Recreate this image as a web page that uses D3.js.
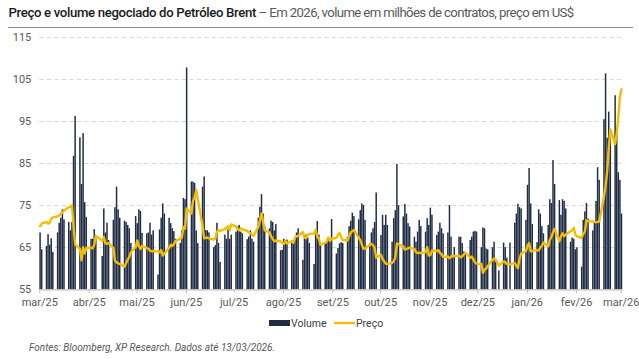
<!DOCTYPE html>
<html><head><meta charset="utf-8">
<script src="https://cdn.jsdelivr.net/npm/d3@7"></script>
<style>body{margin:0;background:#fff}svg{display:block}</style>
</head><body>
<svg id="c" width="639" height="359"></svg>
<script>
// ---- data ----
const firstDay = "2025-03-13";
const lastDay = "2026-03-13";
const holidays = ["2025-04-18", "2025-12-25", "2026-01-01"];
// volume, one value per trading day (week by week)
const volume = [
 68.5, 64.5,
 65.3, 68.1, 65.6, 67.1, 63.9,
 68.5, 70.8, 72.0, 74.0, 71.6,
 71.0, 69.0, 71.0, 86.7, 96.2,
 91.1, 80.0, 92.1, 75.7, 72.2,
 67.0, 67.0, 69.3, 67.0,
 62.9, 74.2, 68.5, 70.8, 66.7,
 71.5, 74.5, 79.4, 74.0, 72.0,
 71.3, 71.0, 70.3, 69.5, 66.0,
 72.4, 70.7, 74.0, 73.6, 68.4,
 68.3, 68.5, 70.8, 68.0, 69.0,
 58.5, 69.2, 72.0, 75.4, 73.0,
 72.0, 70.7, 69.5, 68.8, 67.0,
 66.0, 69.0, 76.7, 76.4, 107.7,
 80.6, 80.6, 80.3, 69.0, 66.0,
 79.4, 81.8, 69.1, 69.0, 68.5,
 65.0, 65.5, 70.8, 66.0, 61.5,
 68.0, 67.0, 69.3, 67.0, 68.0,
 68.7, 69.9, 70.3, 68.7, 68.3,
 66.9, 67.5, 69.0, 67.0, 66.3,
 72.0, 74.6, 77.6, 73.0, 70.0,
 69.5, 71.3, 71.0, 69.0, 70.5,
 64.3, 64.4, 67.0, 66.5, 66.8,
 66.6, 66.4, 67.0, 68.5, 69.5,
 62.0, 67.5, 68.0, 67.3, 66.0,
 61.0, 69.0, 71.2, 68.0, 66.0,
 65.9, 66.8, 67.4, 66.5, 71.7,
 63.5, 64.8, 65.9, 66.2, 66.0,
 67.5, 70.0, 71.3, 73.2, 72.4,
 71.6, 73.8, 75.4, 75.0, 71.5,
 65.9, 68.5, 69.5, 71.0, 78.0,
 67.9, 72.7, 70.3, 72.7, 70.3,
 66.3, 71.9, 73.8, 84.8, 75.0,
 72.3, 75.3, 73.0, 70.7, 69.9,
 67.5, 66.3, 68.7, 71.5, 70.0,
 68.7, 71.9, 70.3, 74.4, 72.7,
 67.9, 68.7, 70.8, 69.5, 68.3,
 68.5, 75.0, 67.5, 62.5, 65.0,
 67.5, 67.5, 66.0, 64.0, 63.5,
 66.7, 67.5, 68.7, 68.9, 68.7,
 65.0, 69.7, 69.5, 64.7, 64.5,
 65.0, 66.3, 61.5, 59.5,
 66.1, 65.0, 62.5, 66.1,
 70.8, 73.0, 75.3, 74.5, 74.2,
 71.5, 79.8, 83.8, 75.4, 70.5,
 66.2, 74.0, 73.0, 70.0, 68.3,
 70.3, 76.4, 75.5, 85.7, 80.0,
 76.2, 72.7, 76.4, 76.0, 74.2,
 66.3, 67.3, 67.0, 64.5, 65.0,
 60.4, 71.5, 73.5, 75.5, 71.8,
 69.0, 71.0, 76.0, 84.0, 81.0,
 95.4, 106.3, 91.0, 97.2, 93.0,
 101.1, 93.0, 82.8, 81.0, 73.0
];
// Brent price (US$), same trading days
const price = [
 70.0, 70.6,
 71.0, 70.6, 70.8, 71.8, 72.1,
 72.3, 72.5, 72.9, 73.2, 73.7,
 74.5, 74.6, 74.9, 70.1, 65.6,
 64.6, 61.9, 65.0, 63.5, 64.8,
 64.9, 64.7, 65.6, 67.7,
 66.5, 67.4, 65.9, 65.8, 66.0,
 64.8, 61.8, 61.4, 61.2, 61.0,
 60.4, 61.2, 62.0, 62.7, 63.8,
 65.0, 66.6, 65.2, 64.6, 65.3,
 64.8, 64.6, 64.2, 64.0, 64.1,
 64.0, 63.8, 64.3, 63.0, 63.5,
 64.8, 65.6, 65.3, 65.7, 66.5,
 67.0, 67.3, 69.8, 69.4, 74.2,
 73.0, 76.0, 76.8, 78.6, 76.5,
 70.0, 67.1, 67.2, 67.3, 67.1,
 66.8, 67.0, 68.7, 69.0, 68.9,
 69.3, 69.7, 70.0, 69.0, 70.4,
 69.9, 69.3, 69.0, 69.5, 69.2,
 68.9, 68.5, 68.3, 68.0, 67.7,
 69.8, 71.5, 73.0, 71.0, 69.0,
 68.5, 67.6, 67.0, 66.4, 66.6,
 66.4, 66.0, 65.8, 66.5, 65.9,
 66.4, 66.0, 67.2, 67.6, 67.7,
 68.6, 67.3, 67.1, 68.0, 68.1,
 68.3, 69.1, 67.6, 67.0, 65.6,
 66.0, 66.4, 67.3, 66.5, 67.0,
 67.2, 67.9, 68.4, 67.5, 66.7,
 66.6, 67.6, 68.5, 68.8, 69.1,
 67.3, 66.7, 65.6, 64.6, 64.7,
 65.5, 65.8, 65.5, 64.8, 62.5,
 63.2, 62.2, 61.6, 61.1, 61.0,
 61.3, 61.6, 62.6, 65.9, 65.7,
 65.2, 64.4, 64.6, 64.7, 64.9,
 64.6, 63.8, 63.6, 63.7, 63.6,
 63.8, 65.0, 63.0, 63.1, 64.2,
 64.1, 64.3, 63.6, 63.4, 62.7,
 62.8, 62.4, 62.8, 63.0, 62.9,
 63.0, 62.6, 62.8, 63.3, 63.7,
 62.5, 62.8, 62.1, 61.4, 61.1,
 61.0, 58.9, 59.7, 59.9, 60.5,
 62.0, 62.3, 62.1, 60.6,
 61.6, 61.5, 61.0, 60.9,
 61.2, 60.6, 60.0, 62.3, 63.5,
 64.0, 65.3, 66.0, 64.0, 64.1,
 64.3, 64.2, 64.9, 65.3, 66.1,
 65.2, 66.7, 67.5, 68.5, 69.4,
 66.4, 67.6, 68.3, 67.6, 68.0,
 68.8, 69.0, 69.6, 68.0, 67.6,
 67.2, 68.2, 68.7, 71.4, 71.2,
 71.1, 71.0, 70.9, 71.0, 71.1,
 77.0, 79.5, 83.0, 88.5, 93.0,
 89.5, 92.0, 96.0, 100.8, 102.5
];
const xTickLabels = ["mar/25","abr/25","mai/25","jun/25","jul/25","ago/25","set/25","out/25","nov/25","dez/25","jan/26","fev/26","mar/26"];
const yTicks = [55, 65, 75, 85, 95, 105, 115];
const seriesNames = ["Volume", "Preço"];
const titleBold = "Preço e volume negociado do Petróleo Brent";
const titleRest = " – Em 2026, volume em milhões de contratos, preço em US$";
const source = "Fontes: Bloomberg, XP Research. Dados até 13/03/2026.";

// ---- build trading-day calendar ----
const parse = d3.utcParse("%Y-%m-%d");
const fmt = d3.utcFormat("%Y-%m-%d");
const hol = new Set(holidays);
const days = d3.utcDays(parse(firstDay), d3.utcDay.offset(parse(lastDay), 1))
  .filter(d => d.getUTCDay() !== 0 && d.getUTCDay() !== 6 && !hol.has(fmt(d)));
const data = days.map((d, i) => ({date: d, vol: volume[i], price: price[i]}));

// ---- layout ----
const svg = d3.select("#c");
const mLeft = 39.3, mRight = 622.3, mTop = 36.7, mBottom = 289.3;
const FONT = "Roboto, 'Noto Sans', sans-serif";
const x = d3.scaleUtc()
  .domain([parse(firstDay), d3.utcDay.offset(parse(lastDay), 1)])
  .range([mLeft, mRight]);
const slot = x(d3.utcDay.offset(parse(firstDay), 1)) - x(parse(firstDay));
const y = d3.scaleLinear().domain([55, 115]).range([mBottom, mTop]);

// title
const t = svg.append("text").attr("x", 8.5).attr("y", 16.5)
  .attr("font-family", FONT).attr("font-size", 13.2);
t.append("tspan").text(titleBold).attr("font-weight", 500).attr("fill", "#1a1a1a")
  .attr("letter-spacing", -0.35);
t.append("tspan").text(titleRest).attr("fill", "#595959").attr("letter-spacing", -0.62);
svg.append("line").attr("x1", 8).attr("x2", 633).attr("y1", 27.5).attr("y2", 27.5)
  .attr("stroke", "#8c8c8c").attr("stroke-width", 1.2);

// grid
svg.append("g").selectAll("line").data(yTicks.filter(v => v > 55)).join("line")
  .attr("x1", mLeft).attr("x2", mRight)
  .attr("y1", d => Math.round(y(d)) + 0.5).attr("y2", d => Math.round(y(d)) + 0.5)
  .attr("stroke", "#d9d9d9").attr("stroke-width", 1).attr("stroke-dasharray", "4.5,3");

// y labels
const yAxis = d3.axisLeft(y).tickValues(yTicks).tickSize(0).tickPadding(8);
const gy = svg.append("g").attr("transform", `translate(${mLeft},0)`).call(yAxis);
gy.select(".domain").remove();
gy.selectAll("text").attr("font-family", FONT).attr("font-size", 11).attr("fill", "#595959");

// bars
svg.append("g").selectAll("rect").data(data).join("rect")
  .attr("x", d => x(d.date) + 0.05)
  .attr("width", slot - 0.12)
  .attr("y", d => y(d.vol))
  .attr("height", d => y(55) - y(d.vol))
  .attr("fill", "#1f2c44");

// x axis: ticks on the 13th of each month
const tickDates = d3.utcMonth.range(parse("2025-03-01"), parse("2026-04-01"))
  .map(m => d3.utcDay.offset(m, 12));
const xAxis = d3.axisBottom(x).tickValues(tickDates).tickSize(4).tickSizeOuter(0)
  .tickFormat((d, i) => xTickLabels[i]);
const gx = svg.append("g").attr("transform", `translate(0,${mBottom})`).call(xAxis);
gx.select(".domain").attr("stroke", "#bfbfbf").attr("stroke-width", 1.2);
gx.selectAll(".tick line").attr("stroke", "#bfbfbf");
gx.selectAll("text").attr("font-family", FONT).attr("font-size", 11).attr("fill", "#595959").attr("dy", "0.85em");

// price line
const line = d3.line().x(d => x(d.date) + slot / 2).y(d => y(d.price));
svg.append("path").datum(data).attr("d", line).attr("fill", "none")
  .attr("stroke", "#f5bd00").attr("stroke-width", 2.4)
  .attr("stroke-linejoin", "round").attr("stroke-linecap", "round");

// legend
const lg = svg.append("g").attr("font-family", FONT).attr("font-size", 10.5).attr("fill", "#404040");
lg.append("rect").attr("x", 269).attr("y", 320).attr("width", 21).attr("height", 6).attr("fill", "#1f2c44");
lg.append("text").attr("x", 291).attr("y", 326.5).text(seriesNames[0]);
lg.append("line").attr("x1", 334).attr("x2", 355).attr("y1", 323).attr("y2", 323)
  .attr("stroke", "#f5bd00").attr("stroke-width", 2.4);
lg.append("text").attr("x", 356).attr("y", 326.5).text(seriesNames[1]);

// source
svg.append("text").attr("x", 29).attr("y", 351).attr("font-family", FONT)
  .attr("font-size", 10).attr("font-style", "italic").attr("fill", "#595959").text(source);
</script>
</body></html>
